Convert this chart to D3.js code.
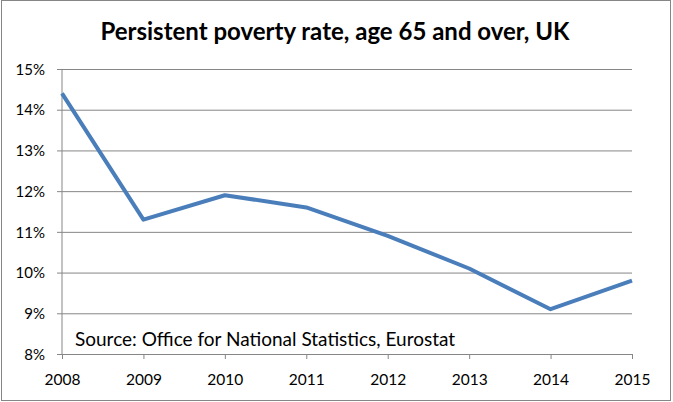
<!DOCTYPE html>
<html>
<head>
<meta charset="utf-8">
<script src="https://cdn.jsdelivr.net/npm/d3@7"></script>
<style>
  body { margin: 0; background: #fff; }
  svg text { font-family: Lato, "Open Sans", sans-serif; fill: #000; }
</style>
</head>
<body>
<div id="vis"></div>
<script>
// persistent poverty, 65+
const FRAME_WIDTH = 673;
const FRAME_HEIGHT = 402;
const MARGINS = {left: 62, right: 41, top: 69, bottom: 48};

const years = [2008, 2009, 2010, 2011, 2012, 2013, 2014, 2015];
const rates = [14.4, 11.3, 11.9, 11.6, 10.9, 10.1, 9.1, 9.8];
const yTicks = [8, 9, 10, 11, 12, 13, 14, 15];

const TITLE = "Persistent poverty rate, age 65 and over, UK";
const SOURCE = "Source: Office for National Statistics, Eurostat";

const VIS_WIDTH = FRAME_WIDTH - MARGINS.left - MARGINS.right;
const VIS_HEIGHT = FRAME_HEIGHT - MARGINS.top - MARGINS.bottom;

const FRAME = d3.select("#vis")
  .append("svg")
    .attr("width", FRAME_WIDTH)
    .attr("height", FRAME_HEIGHT);

// outer border
FRAME.append("rect")
  .attr("x", 1.5).attr("y", 0.5)
  .attr("width", FRAME_WIDTH - 4).attr("height", FRAME_HEIGHT - 2)
  .attr("fill", "none")
  .attr("stroke", "#868686");

const X_SCALE = d3.scalePoint()
  .domain(years)
  .range([0, VIS_WIDTH]);

const Y_SCALE = d3.scaleLinear()
  .domain([8, 15])
  .range([VIS_HEIGHT, 0]);

const g = FRAME.append("g")
  .attr("transform", `translate(${MARGINS.left},${MARGINS.top})`);

// gridlines + y labels
const yAxis = d3.axisLeft(Y_SCALE)
  .tickValues(yTicks)
  .tickSize(-VIS_WIDTH)
  .tickFormat(d => d + "%");

g.append("g")
  .call(yAxis)
  .call(a => a.select(".domain").remove())
  .call(a => a.selectAll(".tick line")
    .attr("x1", -5)
    .attr("stroke", "#868686"))
  .call(a => a.selectAll(".tick text")
    .attr("x", -17)
    .attr("dy", "0.35em")
    .style("font-size", "15px"));

// left axis line
g.append("line")
  .attr("x1", 0).attr("x2", 0)
  .attr("y1", 0).attr("y2", VIS_HEIGHT)
  .attr("stroke", "#868686");

// x axis
const xAxis = d3.axisBottom(X_SCALE)
  .tickSize(5)
  .tickSizeOuter(0);

g.append("g")
  .attr("transform", `translate(0,${VIS_HEIGHT})`)
  .call(xAxis)
  .call(a => a.select(".domain").attr("stroke", "#868686"))
  .call(a => a.selectAll(".tick line").attr("stroke", "#868686"))
  .call(a => a.selectAll(".tick text")
    .attr("y", 31)
    .attr("dy", 0)
    .style("font-size", "15.5px"));

// the line
const line = d3.line()
  .x((d, i) => X_SCALE(years[i]))
  .y(d => Y_SCALE(d));

g.append("path")
  .datum(rates)
  .attr("d", line)
  .attr("fill", "none")
  .attr("stroke", "#4a7ebb")
  .attr("stroke-width", 4)
  .attr("stroke-linejoin", "round");

// title
FRAME.append("text")
  .attr("x", 335)
  .attr("y", 40)
  .attr("text-anchor", "middle")
  .style("font-size", "24px")
  .style("font-weight", "bold")
  .text(TITLE);

// source note
FRAME.append("text")
  .attr("x", 75)
  .attr("y", 346)
  .style("font-size", "19px")
  .text(SOURCE);
</script>
</body>
</html>
